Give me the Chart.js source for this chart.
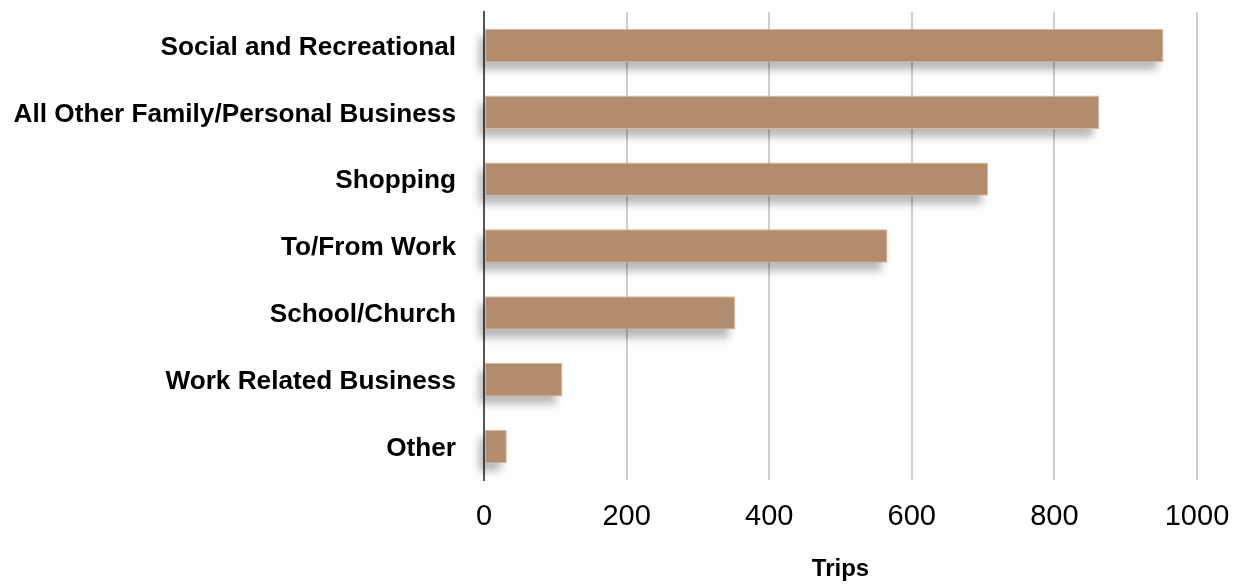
<!DOCTYPE html>
<html>
<head>
<meta charset="utf-8">
<script src="https://cdn.jsdelivr.net/npm/chart.js@4/dist/chart.umd.min.js"></script>
<style>
  html, body { margin: 0; padding: 0; background: #fff; }
  #wrap { width: 1242px; height: 584px; position: relative; }
</style>
</head>
<body>
<div id="wrap"><canvas id="c" width="1242" height="584"></canvas></div>
<script>
const categories = [
  "Social and Recreational",
  "All Other Family/Personal Business",
  "Shopping",
  "To/From Work",
  "School/Church",
  "Work Related Business",
  "Other"
];
const trips = [953, 863, 707, 566, 352, 110, 32];
const xTicks = [0, 200, 400, 600, 800, 1000];
const xTitle = "Trips";

const shadowPlugin = {
  id: 'barShadow',
  beforeDatasetsDraw(chart) {
    const ctx = chart.ctx;
    const meta = chart.getDatasetMeta(0);
    const OFF = 10000;
    ctx.save();
    ctx.shadowColor = 'rgba(0,0,0,0.28)';
    ctx.shadowBlur = 8;
    ctx.shadowOffsetX = -6 + OFF;
    ctx.shadowOffsetY = 8;
    ctx.fillStyle = '#000';
    meta.data.forEach(bar => {
      const p = bar.getProps(['x', 'y', 'base', 'height'], true);
      const left = Math.min(p.x, p.base), right = Math.max(p.x, p.base);
      ctx.fillRect(left - OFF, p.y - p.height / 2, right - left, p.height);
    });
    ctx.restore();
  }
};

new Chart(document.getElementById('c'), {
  type: 'bar',
  data: {
    labels: categories,
    datasets: [{
      data: trips,
      backgroundColor: '#b38b6d',
      borderColor: '#d6b9a2',
      borderWidth: 1,
      borderSkipped: false,
      barPercentage: 0.5,
      categoryPercentage: 1.0
    }]
  },
  options: {
    indexAxis: 'y',
    responsive: false,
    animation: false,
    devicePixelRatio: 1,
    layout: { padding: { top: 12, right: 45, bottom: 0, left: 0 } },
    plugins: { legend: { display: false }, tooltip: { enabled: false } },
    scales: {
      x: {
        min: 0, max: 1000,
        afterBuildTicks(scale) { scale.ticks = xTicks.map(v => ({ value: v })); },
        afterFit(scale) {
          scale.height = 104;
          scale.paddingLeft = 0; scale.paddingRight = 0;
          scale.paddingTop = 0; scale.paddingBottom = 0;
        },
        grid: { color: '#cfcfcf', lineWidth: 2, drawTicks: false },
        border: { display: false },
        ticks: {
          color: '#000', padding: 20,
          font: { family: 'Liberation Sans', size: 29 },
          callback: (v) => String(v)
        },
        title: {
          display: true, text: xTitle, color: '#000',
          font: { family: 'Liberation Sans', size: 24, weight: 'bold' },
          padding: { top: 18, bottom: 0 }
        }
      },
      y: {
        afterFit(scale) {
          scale.width = 484;
          scale.paddingTop = 0; scale.paddingBottom = 0;
          scale.paddingLeft = 0; scale.paddingRight = 0;
        },
        grid: { display: false, drawTicks: false },
        border: { display: true, color: '#555', width: 2 },
        ticks: {
          color: '#000', padding: 28, labelOffset: 2,
          font: { family: 'Liberation Sans', size: 26.2, weight: 'bold' }
        }
      }
    }
  },
  plugins: [shadowPlugin]
});
</script>
</body>
</html>
